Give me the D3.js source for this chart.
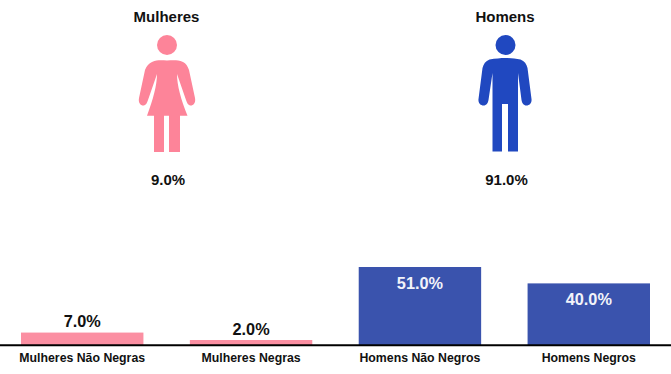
<!DOCTYPE html>
<html>
<head>
<meta charset="utf-8">
<script src="https://cdn.jsdelivr.net/npm/d3@7"></script>
<style>
  html, body { margin: 0; padding: 0; background: #fff; }
  svg { display: block; }
  text { font-family: "Liberation Sans", Arial, sans-serif; font-weight: bold; fill: #111; }
</style>
</head>
<body>
<svg width="671" height="374"></svg>
<script>
const categories = ["Mulheres Não Negras", "Mulheres Negras", "Homens Não Negros", "Homens Negros"];
const values = [7, 2, 51, 40];
const barColors = ["#fb8fa2", "#fb8fa2", "#3a53ad", "#3a53ad"];

const genders = ["Mulheres", "Homens"];
const genderValues = [9, 91];
const genderColors = ["#fd8499", "#2048c0"];

const womanPath = "M-15 17 C-9 14.5 -5 15.5 0 15.5 C5 15.5 10 14.5 16 17 C19 18.5 20.5 21 22 25 L28 53 C29 58 26 61 23 60.5 C21 60 20 58 19 55 L10 29 C10 40 14 55 20.5 70.7 L13 70.7 L13 107 L2 107 L2 70.7 L-3 70.7 L-3 107 L-13 107 L-13 70.7 L-20 70.7 C-14 55 -10 40 -10 29 L-19 55 C-20 58 -21 60 -23 60.5 C-26 61 -29 58 -28 53 L-22 25 C-20.5 21 -18 18.5 -15 17 Z";
const manPath = "M-16 14.5 C-10 13.5 -5 13 0 13 C5 13 10 13.5 15 14.5 C19 16 21 19 22 23 L26 54 C26.5 58 24 60.5 21 60.5 C18 60.5 16.5 58 16 55 L12.5 28 L12.5 106.5 L2.5 106.5 L2.5 59 L-3.5 59 L-3.5 106.5 L-13 106.5 L-13 28 L-17 55 C-17.5 58 -19 60.5 -22 60.5 C-25 60.5 -27.5 58 -27 54 L-23 23 C-22 19 -20 16 -16 14.5 Z";
const iconPaths = [womanPath, manPath];

const svg = d3.select("svg");

const baseY = 345;
const fmt = d => d.toFixed(1) + "%";

const scaleX = d3.scaleBand()
  .domain(categories)
  .range([21, 650])
  .paddingInner(0.275)
  .paddingOuter(0);

// zero sits just above the axis line, bars run down to it
const scaleY = d3.scaleLinear()
  .domain([0, 51])
  .range([343, 267]);

// bars
svg.selectAll(".bar")
  .data(values)
  .enter()
  .append("rect")
  .attr("class", "bar")
  .attr("x", (d, i) => scaleX(categories[i]))
  .attr("y", d => scaleY(d))
  .attr("width", scaleX.bandwidth())
  .attr("height", d => baseY - scaleY(d))
  .style("fill", (d, i) => barColors[i]);

// value labels: inside the tall bars, above the short ones
svg.selectAll(".value")
  .data(values)
  .enter()
  .append("text")
  .attr("class", "value")
  .attr("x", (d, i) => scaleX(categories[i]) + scaleX.bandwidth() / 2)
  .attr("y", d => d > 10 ? scaleY(d) + 21.8 : scaleY(d) - 5.5)
  .attr("text-anchor", "middle")
  .style("font-size", "16.3px")
  .style("fill", d => d > 10 ? "#f2f3fa" : "#111")
  .text(fmt);

// axis
const axisX = d3.axisBottom(scaleX).tickSize(0).tickPadding(8.5);

const gAxis = svg.append("g")
  .attr("transform", `translate(0, ${baseY})`)
  .call(axisX);

gAxis.select(".domain")
  .attr("d", "M0 0.25H671")
  .style("stroke", "#000")
  .style("stroke-width", 2);

gAxis.selectAll("text")
  .style("font-size", "12.3px")
  .style("font-family", "\"Liberation Sans\", Arial, sans-serif")
  .style("fill", "#111");

// top part: one figure per gender
const scaleTop = d3.scalePoint()
  .domain(genders)
  .range([167, 505.5]);

const groups = svg.selectAll(".gender")
  .data(genders)
  .enter()
  .append("g")
  .attr("class", "gender")
  .attr("transform", d => `translate(${scaleTop(d)}, 0)`);

groups.append("text")
  .attr("x", -0.5)
  .attr("y", 22)
  .attr("text-anchor", "middle")
  .style("font-size", "15px")
  .text(d => d);

groups.append("circle")
  .attr("cy", 45)
  .attr("r", 10)
  .style("fill", (d, i) => genderColors[i]);

groups.append("path")
  .attr("transform", "translate(0, 45)")
  .attr("d", (d, i) => iconPaths[i])
  .style("fill", (d, i) => genderColors[i]);

groups.append("text")
  .attr("x", 1)
  .attr("y", 184.5)
  .attr("text-anchor", "middle")
  .style("font-size", "15px")
  .text((d, i) => fmt(genderValues[i]));
</script>
</body>
</html>
